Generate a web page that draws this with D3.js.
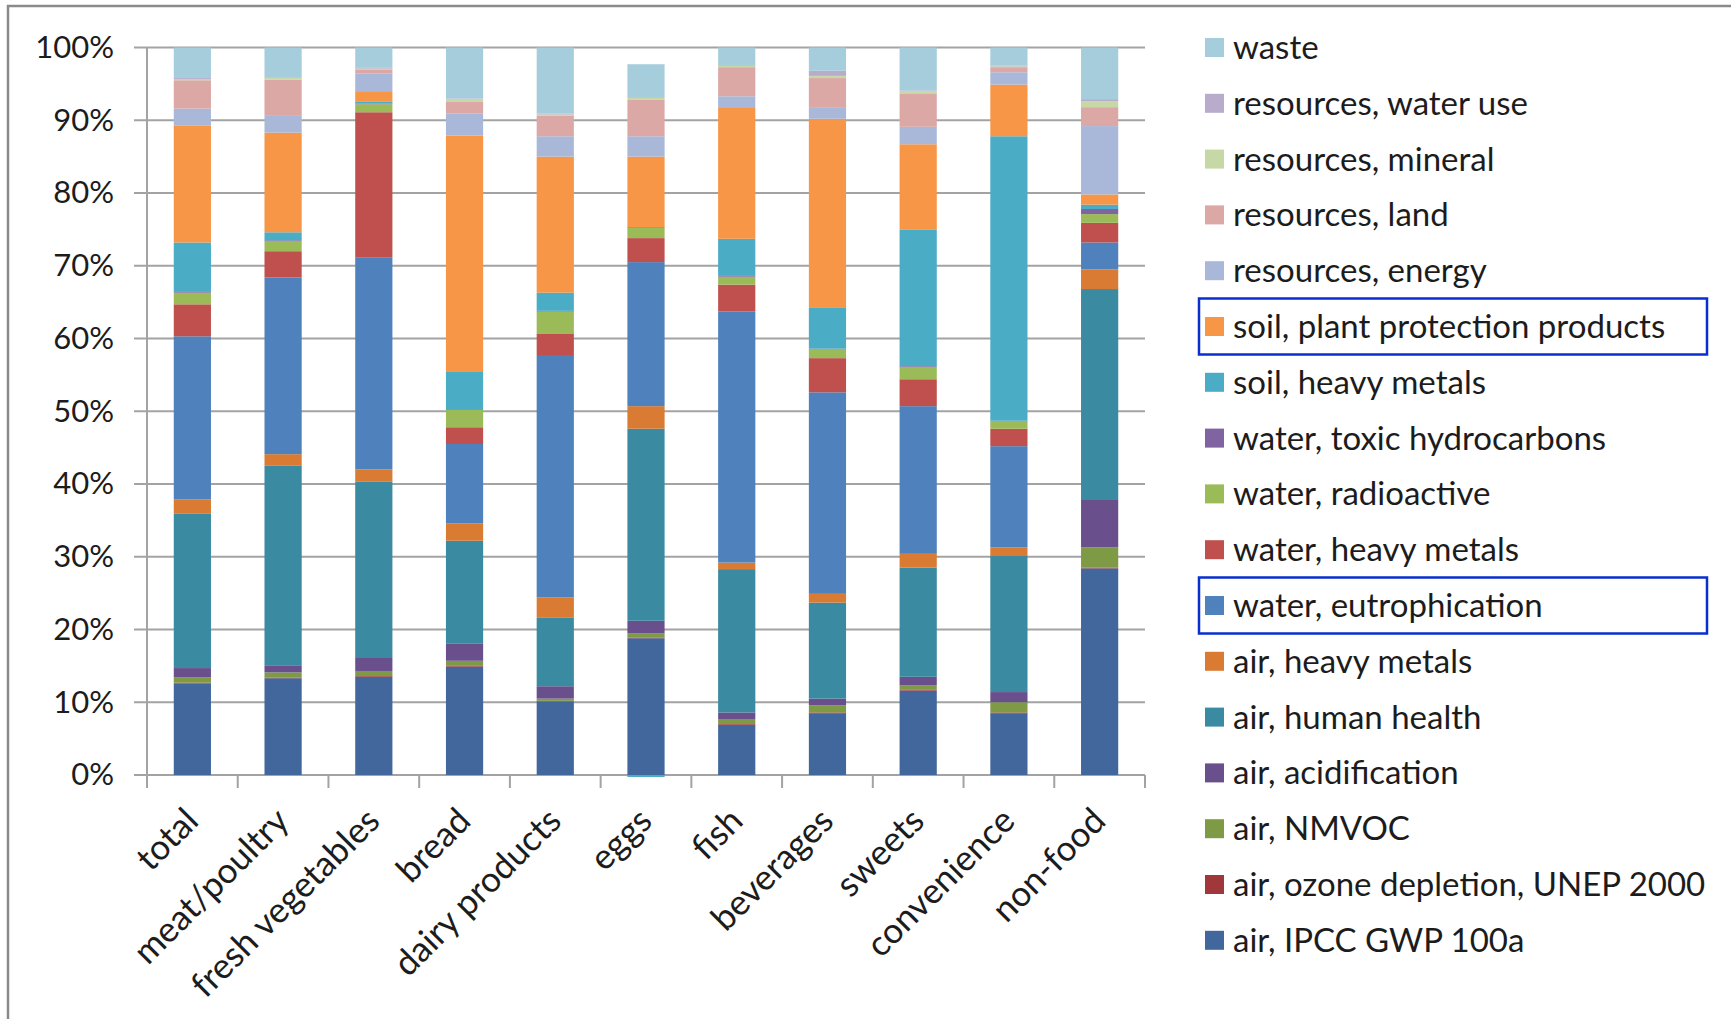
<!DOCTYPE html>
<html>
<head>
<meta charset="utf-8">
<script src="https://cdn.jsdelivr.net/npm/d3@7"></script>
<style>
  html, body { margin: 0; padding: 0; background: #ffffff; }
  svg { display: block; }
  text { font-family: Lato, "Open Sans", "Noto Sans", sans-serif; fill: #1c1c1c; }
</style>
</head>
<body>
<svg id="chart" width="1731" height="1019"></svg>
<script>
// Product groups along the x axis
const categories = ["total", "meat/poultry", "fresh vegetables", "bread", "dairy products",
  "eggs", "fish", "beverages", "sweets", "convenience", "non-food"];

// Share of total environmental impact (%) per impact category, one value per product group
const airGWP          = [12.6, 13.3, 13.5, 14.9, 10.1, 18.8,  6.9,  8.5, 11.6,  8.5, 28.4];
const airOzone        = [ 0.1,  0.1,  0.1,  0.1,  0.1,  0.1,  0.1,  0.1,  0.1,  0.1,  0.1];
const airNMVOC        = [ 0.7,  0.7,  0.7,  0.7,  0.3,  0.6,  0.7,  1.0,  0.6,  1.4,  2.8];
const airAcid         = [ 1.3,  0.9,  1.9,  2.4,  1.7,  1.7,  0.9,  0.9,  1.2,  1.4,  6.5];
const airHealth       = [21.2, 27.5, 24.1, 14.1,  9.4, 26.4, 19.7, 13.2, 15.0, 18.7, 29.0];
const airMetals       = [ 2.0,  1.6,  1.7,  2.4,  2.8,  3.1,  0.9,  1.2,  1.9,  1.2,  2.7];
const waterEutro      = [22.4, 24.3, 29.1, 10.9, 33.2, 19.8, 34.5, 27.7, 20.3, 13.9,  3.7];
const waterMetals     = [ 4.4,  3.6, 20.0,  2.3,  3.1,  3.3,  3.7,  4.7,  3.7,  2.4,  2.7];
const waterRadio      = [ 1.6,  1.4,  1.1,  2.4,  3.0,  1.4,  1.1,  1.2,  1.7,  1.0,  1.2];
const waterToxic      = [ 0.1,  0.1,  0.1,  0.1,  0.1,  0.1,  0.1,  0.1,  0.1,  0.1,  0.7];
const soilMetals      = [ 6.8,  1.1,  0.3,  5.1,  2.5, -2.3,  5.1,  5.6, 18.8, 39.1,  0.6];
const soilPlantProt   = [16.1, 13.7,  1.4, 32.5, 18.7,  9.7, 18.1, 26.0, 11.7,  7.1,  1.4];
const resEnergy       = [ 2.3,  2.3,  2.4,  3.0,  2.8,  2.8,  1.5,  1.6,  2.4,  1.7,  9.4];
const resLand         = [ 3.9,  5.0,  0.6,  1.7,  2.8,  5.0,  4.0,  4.0,  4.6,  0.7,  2.6];
const resMineral      = [ 0.1,  0.2,  0.1,  0.3,  0.2,  0.3,  0.2,  0.3,  0.3,  0.1,  0.8];
const resWater        = [ 0.2,  0.1,  0.1,  0.1,  0.1,  0.1,  0.1,  0.7,  0.1,  0.1,  0.3];
const waste           = [ 4.2,  4.1,  2.8,  7.0,  9.1,  4.5,  2.4,  3.2,  5.9,  2.5,  7.1];

// Impact categories, stacked from the bottom up
const seriesNames = [
  "air, IPCC GWP 100a", "air, ozone depletion, UNEP 2000", "air, NMVOC", "air, acidification",
  "air, human health", "air, heavy metals", "water, eutrophication", "water, heavy metals",
  "water, radioactive", "water, toxic hydrocarbons", "soil, heavy metals",
  "soil, plant protection products", "resources, energy", "resources, land",
  "resources, mineral", "resources, water use", "waste"
];
const seriesValues = [airGWP, airOzone, airNMVOC, airAcid, airHealth, airMetals, waterEutro,
  waterMetals, waterRadio, waterToxic, soilMetals, soilPlantProt, resEnergy, resLand,
  resMineral, resWater, waste];
const seriesColors = [
  "#41679d", "#a0373a", "#7e9a44", "#69508c", "#3a8aa1", "#d97b33", "#4f81bd", "#c0504d",
  "#9bbb59", "#8064a2", "#4bacc6", "#f79646", "#a9b8d8", "#dba8a6", "#c6d8a6", "#b8abcc",
  "#a6cddb"
];

// Legend entries framed for emphasis
const highlighted = ["soil, plant protection products", "water, eutrophication"];

const yTicks = [0, 10, 20, 30, 40, 50, 60, 70, 80, 90, 100];

// Rows for the stack layout
const rows = categories.map((c, i) => {
  const r = { category: c };
  seriesNames.forEach((s, k) => { r[s] = seriesValues[k][i]; });
  return r;
});

const svg = d3.select("#chart");
const plot = { left: 147, right: 1145, top: 47.5, bottom: 775 };

const x = d3.scaleBand()
  .domain(categories)
  .range([plot.left, plot.right])
  .paddingInner(0.59)
  .paddingOuter(0.295);

const y = d3.scaleLinear().domain([0, 100]).range([plot.bottom, plot.top]);

const color = d3.scaleOrdinal().domain(seriesNames).range(seriesColors);

// Outer frame of the chart area
svg.append("path")
  .attr("d", "M8,1030 L8,6 L1740,6")
  .attr("fill", "none")
  .attr("stroke", "#8a8a8a")
  .attr("stroke-width", 2.5);

// Horizontal gridlines with tick stubs to the left of the axis
const grid = svg.append("g").attr("class", "grid");
grid.selectAll("line")
  .data(yTicks)
  .join("line")
  .attr("x1", plot.left - 13)
  .attr("x2", plot.right)
  .attr("y1", d => y(d))
  .attr("y2", d => y(d))
  .attr("stroke", "#a3a3a3")
  .attr("stroke-width", 2);

// Y axis labels
const yAxis = d3.axisLeft(y)
  .tickValues(yTicks)
  .tickFormat(d => d + "%")
  .tickSize(0)
  .tickPadding(33);
const yg = svg.append("g")
  .attr("transform", `translate(${plot.left},0)`)
  .call(yAxis);
yg.select(".domain").remove();
yg.selectAll("text")
  .attr("font-size", 31)
  .attr("font-family", "Lato, 'Open Sans', sans-serif")
  .attr("fill", "#1c1c1c");

// Vertical axis line
svg.append("line")
  .attr("x1", plot.left).attr("x2", plot.left)
  .attr("y1", plot.top).attr("y2", plot.bottom)
  .attr("stroke", "#a3a3a3").attr("stroke-width", 2);

// Category tick marks at the slot boundaries
const boundaries = d3.range(categories.length + 1).map(i => plot.left + i * x.step());
svg.append("g").selectAll("line")
  .data(boundaries)
  .join("line")
  .attr("x1", d => d).attr("x2", d => d)
  .attr("y1", plot.bottom).attr("y2", plot.bottom + 13)
  .attr("stroke", "#a3a3a3").attr("stroke-width", 2);

// Stacked bars
svg.append("clipPath").attr("id", "plot-clip")
  .append("rect")
  .attr("x", plot.left).attr("y", plot.top - 1)
  .attr("width", plot.right - plot.left)
  .attr("height", plot.bottom - plot.top + 3);

const stack = d3.stack().keys(seriesNames).offset(d3.stackOffsetDiverging);
const layers = stack(rows);

svg.append("g")
  .attr("clip-path", "url(#plot-clip)")
  .selectAll("g")
  .data(layers)
  .join("g")
  .attr("fill", d => color(d.key))
  .selectAll("rect")
  .data(d => d)
  .join("rect")
  .attr("x", d => x(d.data.category))
  .attr("width", x.bandwidth())
  .attr("y", d => y(Math.max(d[0], d[1])))
  .attr("height", d => Math.abs(y(d[0]) - y(d[1])));

// Rotated category labels
svg.append("g").selectAll("text")
  .data(categories)
  .join("text")
  .attr("transform", d => `translate(${x(d) + x.bandwidth() / 2 + 8},${plot.bottom + 48}) rotate(-45)`)
  .attr("text-anchor", "end")
  .attr("font-size", 35)
  .text(d => d);

// Legend, top entry is the top of the stack
const legendItems = seriesNames.slice().reverse();
const legend = svg.append("g").attr("transform", "translate(1205,47.5)");
const rowStep = 55.8;

const item = legend.selectAll("g")
  .data(legendItems)
  .join("g")
  .attr("transform", (d, i) => `translate(0,${i * rowStep})`);

item.append("rect")
  .attr("x", 0).attr("y", -9.5)
  .attr("width", 19).attr("height", 19)
  .attr("fill", d => color(d));

item.append("text")
  .attr("x", 28)
  .attr("dy", "0.35em")
  .attr("font-size", 33)
  .text(d => d);

item.filter(d => highlighted.includes(d))
  .append("rect")
  .attr("x", -6).attr("y", -28)
  .attr("width", 508).attr("height", 56)
  .attr("fill", "none")
  .attr("stroke", "#0a2fd0")
  .attr("stroke-width", 2.5);
</script>
</body>
</html>
